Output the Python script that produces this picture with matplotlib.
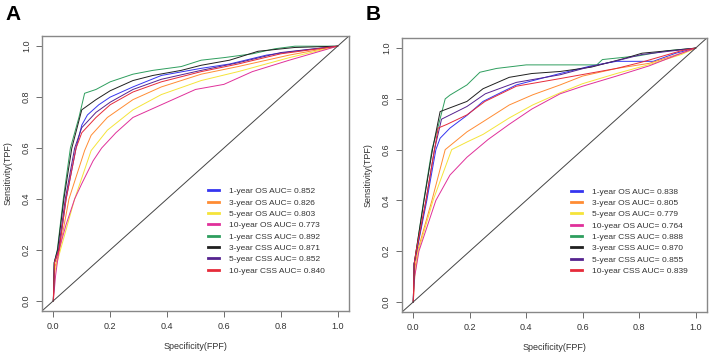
import numpy as np
import matplotlib
matplotlib.use("Agg")
import matplotlib.pyplot as plt

plt.rcParams['font.family'] = ['Liberation Sans', 'DejaVu Sans']

# legend labels, one list per panel
names = ['1-year OS', '3-year OS', '5-year OS', '10-year OS',
         '1-year CSS', '3-year CSS', '5-year CSS', '10-year CSS']
auc_A = [0.852, 0.826, 0.803, 0.773, 0.892, 0.871, 0.852, 0.840]
auc_B = [0.838, 0.805, 0.779, 0.764, 0.888, 0.870, 0.855, 0.839]
colors = ['#3535f0', '#ff8c33', '#f5e43a', '#e0309a',
          '#2e9e5e', '#202020', '#55238f', '#e62b3a']

# ROC points (FPF, TPF), same order as names
# panel A
fpr_A = [
    [0, .004, .02, .045, .08, .10, .12, .16, .20, .28, .38, .52, .62, .75, .85, 1],
    [0, .005, .022, .055, .11, .133, .19, .28, .38, .52, .65, .83, 1],
    [0, .006, .025, .075, .133, .19, .28, .38, .52, .65, .83, 1],
    [0, .008, .02, .045, .075, .10, .14, .17, .22, .28, .38, .50, .60, .70, .83, 1],
    [0, .003, .014, .035, .06, .09, .11, .15, .20, .28, .35, .45, .52, .60, .70, .78, .85, 1],
    [0, .003, .015, .037, .065, .10, .15, .20, .28, .35, .45, .52, .62, .72, .85, 1],
    [0, .004, .018, .042, .075, .10, .15, .20, .28, .38, .52, .65, .80, 1],
    [0, .004, .02, .045, .08, .10, .15, .20, .28, .38, .52, .65, .80, 1],
]
tpr_A = [
    [0, .15, .20, .40, .60, .69, .73, .77, .80, .84, .885, .913, .93, .965, .98, 1],
    [0, .13, .20, .40, .59, .65, .72, .79, .84, .89, .92, .965, 1],
    [0, .12, .20, .40, .59, .67, .75, .81, .865, .90, .955, 1],
    [0, .10, .20, .30, .40, .46, .55, .60, .66, .72, .77, .83, .85, .90, .945, 1],
    [0, .15, .20, .40, .60, .72, .815, .83, .86, .89, .905, .92, .945, .955, .97, .99, 1.0, 1.0],
    [0, .15, .20, .40, .60, .75, .79, .825, .865, .885, .905, .925, .945, .98, .995, 1],
    [0, .15, .20, .40, .60, .68, .74, .78, .83, .87, .905, .935, .975, 1],
    [0, .15, .20, .40, .60, .66, .72, .77, .82, .86, .90, .93, .97, 1],
]
# panel B
fpr_B = [
    [0, .003, .012, .048, .08, .095, .13, .19, .247, .365, .52, .63, .72, .85, .93, 1],
    [0, .004, .015, .066, .113, .19, .247, .34, .423, .52, .60, .72, .835, .95, 1],
    [0, .005, .018, .07, .136, .19, .247, .34, .423, .52, .60, .72, .835, .95, 1],
    [0, .005, .02, .05, .08, .13, .19, .265, .34, .42, .52, .60, .72, .835, .95, 1],
    [0, .003, .01, .037, .066, .09, .113, .13, .19, .236, .295, .40, .65, .67, .80, .90, 1],
    [0, .003, .01, .038, .068, .095, .19, .247, .34, .42, .52, .63, .75, .81, 1],
    [0, .003, .012, .045, .075, .10, .19, .255, .365, .52, .62, .72, .81, 1],
    [0, .003, .01, .045, .075, .088, .12, .19, .254, .365, .52, .72, .81, .95, 1],
]
tpr_B = [
    [0, .15, .20, .40, .60, .645, .685, .735, .79, .855, .90, .93, .948, .948, .98, 1],
    [0, .12, .20, .40, .60, .67, .71, .776, .816, .855, .89, .92, .94, .98, 1],
    [0, .10, .20, .40, .60, .63, .66, .725, .776, .824, .86, .90, .935, .975, 1],
    [0, .10, .20, .30, .40, .50, .57, .64, .70, .76, .82, .85, .89, .93, .98, 1],
    [0, .15, .20, .40, .60, .70, .80, .815, .855, .905, .92, .934, .934, .955, .97, .99, 1],
    [0, .15, .20, .40, .60, .75, .79, .84, .885, .90, .908, .925, .96, .98, 1],
    [0, .15, .20, .40, .60, .72, .77, .82, .865, .895, .925, .95, .975, 1],
    [0, .15, .20, .40, .60, .685, .70, .737, .79, .85, .88, .92, .945, .99, 1],
]

fig = plt.figure(figsize=(7.09, 3.55), dpi=100)
axA = fig.add_axes([0.0592, 0.124, 0.433, 0.7746])
axB = fig.add_axes([0.567, 0.121, 0.430, 0.772])


def draw_panel(ax, fpr, tpr, auc, leg_xy, letter):
    for i in range(len(names)):
        ax.plot(fpr[i], tpr[i], color=colors[i], lw=0.7,
                label='%s AUC= %.3f' % (names[i], auc[i]))
    ax.axline((0, 0), (1, 1), color='#444444', lw=0.7)
    ax.set_xlim(-0.04, 1.04)
    ax.set_ylim(-0.04, 1.04)
    ticks = np.arange(0, 1.01, 0.2)
    ax.set_xticks(ticks)
    ax.set_yticks(ticks)
    ax.set_xticklabels(['%.1f' % t for t in ticks])
    ax.set_yticklabels(['%.1f' % t for t in ticks], rotation=90, va='center')
    ax.tick_params(labelsize=6.5, length=4, width=0.6, color='#555555',
                   labelcolor='#333333', pad=4)
    for s in ax.spines.values():
        s.set_color('#888888')
        s.set_linewidth(1.0)
    ax.set_xlabel('Specificity(FPF)', fontsize=6.5, color='#333333', labelpad=8)
    ax.set_ylabel('Sensitivity(TPF)', fontsize=6.5, color='#333333', labelpad=7)
    leg = ax.legend(loc='upper left', bbox_to_anchor=leg_xy,
                    bbox_transform=ax.transData, frameon=False, fontsize=6,
                    handlelength=1.3, handletextpad=1.2, labelspacing=0.42,
                    borderpad=0, borderaxespad=0)
    for h in leg.get_lines():
        h.set_linewidth(2.0)
    for t in leg.get_texts():
        t.set_color('#333333')
    fig.text(ax.get_position().x0 - 0.052, 0.985, letter, fontsize=15,
             fontweight='bold', va='top', ha='left')


draw_panel(axA, fpr_A, tpr_A, auc_A, (0.545, 0.445), 'A')
draw_panel(axB, fpr_B, tpr_B, auc_B, (0.559, 0.45), 'B')

fig.savefig('out.png', dpi=100)
